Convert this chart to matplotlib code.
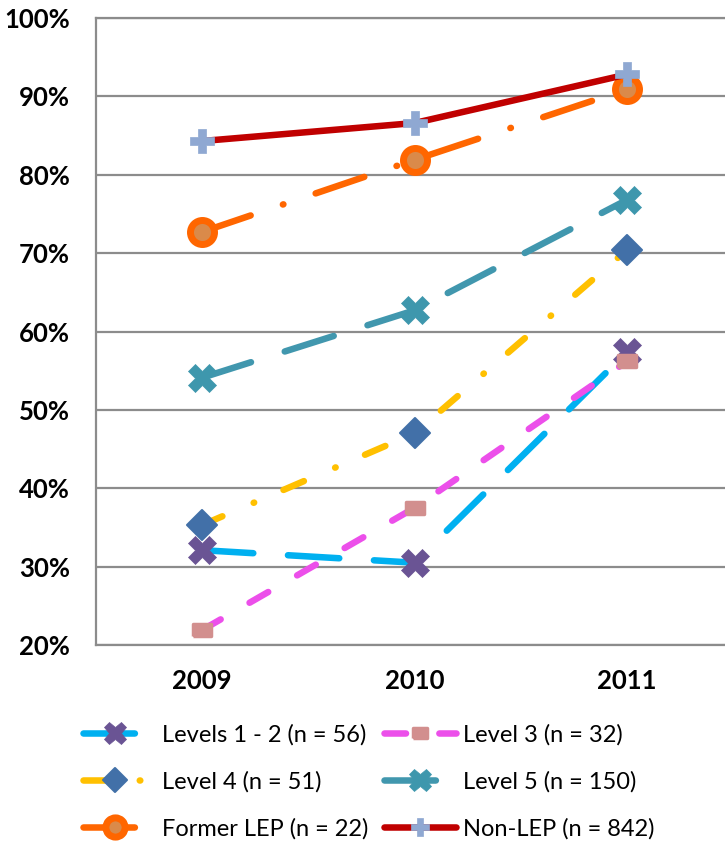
import matplotlib
matplotlib.use("Agg")
import matplotlib.pyplot as plt
from matplotlib.markers import MarkerStyle
from matplotlib.ticker import FuncFormatter, MultipleLocator

plt.rcParams["font.family"] = ["Lato", "DejaVu Sans"]
plt.rcParams["lines.scale_dashes"] = False

# ---- data (percent of students) ----
years = ["2009", "2010", "2011"]
levels_1_2 = [32.1, 30.5, 57.4]
level_3 = [21.9, 37.5, 56.2]
level_4 = [35.3, 47.0, 70.4]
level_5 = [54.1, 62.7, 76.8]
former_lep = [72.7, 81.9, 90.9]
non_lep = [84.3, 86.6, 92.8]

series_labels = [
    "Levels 1 - 2 (n = 56)",
    "Level 3 (n = 32)",
    "Level 4 (n = 51)",
    "Level 5 (n = 150)",
    "Former LEP (n = 22)",
    "Non-LEP (n = 842)",
]
series_values = [levels_1_2, level_3, level_4, level_5, former_lep, non_lep]

# ---- styling ----
LW = 4.7
rect_marker = [(-1.0, -0.66), (1.0, -0.66), (1.0, 0.66), (-1.0, 0.66), (-1.0, -0.66)]
styles = [
    dict(color="#00B0F0", dashes=(37, 25), marker="X", ms=20, mfc="#6A5494",
         mec="#6A5494", mew=0.5),
    dict(color="#EC4FEA", dashes=(15.5, 24), marker=rect_marker, ms=12.5,
         mfc="#D28F8E", mec="#D28F8E", mew=2.5),
    dict(color="#FFC000", dashes=(16, 24.5, 0.4, 23), marker="D", ms=15,
         mfc="#4270A8", mec="#4270A8", mew=1.5),
    dict(color="#4197AE", dashes=(37, 25.5), marker="X", ms=20, mfc="#3E97AD",
         mec="#3E97AD", mew=0.5),
    dict(color="#FF6600", dashes=(37, 24.5, 0.4, 24.5), marker="o", ms=17.3,
         mfc="#DA8A4A", mec="#FF6600", mew=5),
    dict(color="#C00000", dashes=None, marker="P", ms=17, mfc="#8FA8D2",
         mec="#8FA8D2", mew=0.5),
]

fig = plt.figure(figsize=(7.25, 8.42), dpi=100)
ax = fig.add_axes([95.75 / 725, 197 / 842, 637.5 / 725, 627 / 842])

x = list(range(len(years)))
handles = []
for i, (vals, st) in enumerate(zip(series_values, styles)):
    kw = dict(color=st["color"], lw=LW,
              marker=MarkerStyle(st["marker"], joinstyle="round"), ms=st["ms"],
              mfc=st["mfc"], mec=st["mec"], mew=st["mew"],
              solid_capstyle="round", dash_capstyle="round",
              solid_joinstyle="round", clip_on=False, zorder=3 + i)
    if st["dashes"] is not None:
        kw["dashes"] = st["dashes"]
    (h,) = ax.plot(x, vals, **kw)
    handles.append(h)

ax.set_xlim(-0.5, 2.5)
ax.set_ylim(20, 100)
ax.yaxis.set_major_locator(MultipleLocator(10))
ax.yaxis.set_major_formatter(FuncFormatter(lambda v, p: f"{v:.0f}%"))
ax.set_xticks(x)
ax.set_xticklabels(years)

grid_c = "#8C8C8C"
ax.yaxis.grid(True, color=grid_c, lw=1.6)
ax.set_axisbelow(True)
for side in ["top", "bottom", "left"]:
    ax.spines[side].set_color(grid_c)
    ax.spines[side].set_linewidth(1.6)
ax.spines["right"].set_visible(False)

ax.tick_params(axis="y", length=0, pad=18.5, labelsize=18.5)
ax.tick_params(axis="x", length=0, pad=17, labelsize=18.5)
for lab in ax.get_xticklabels() + ax.get_yticklabels():
    lab.set_fontweight("bold")
    lab.set_color("black")

# ---- legend in two columns ----
common = dict(loc="upper left", frameon=False, fontsize=17, borderpad=0,
              borderaxespad=0, labelspacing=1.08, markerscale=0.8)
leg1 = fig.legend([handles[0], handles[2], handles[4]],
                  [series_labels[0], series_labels[2], series_labels[4]],
                  bbox_to_anchor=(83 / 725, 1 - 724 / 842),
                  handlelength=2.67, handletextpad=0.68, **common)
leg2 = fig.legend([handles[1], handles[3], handles[5]],
                  [series_labels[1], series_labels[3], series_labels[5]],
                  bbox_to_anchor=(384 / 725, 1 - 724 / 842),
                  handlelength=3.05, handletextpad=0.3, **common)

fig.savefig("out.png", dpi=100)
